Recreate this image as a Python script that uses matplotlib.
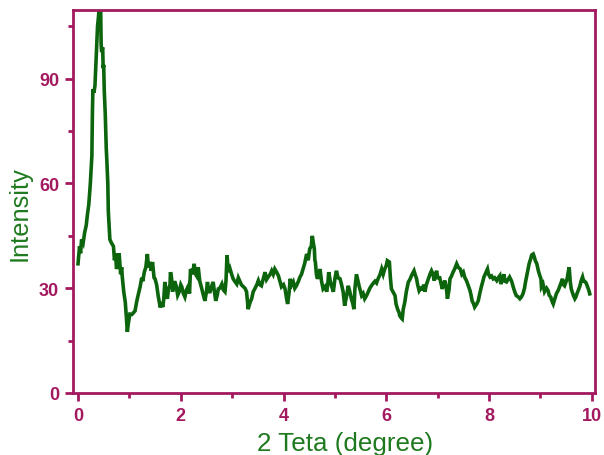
import numpy as np
import matplotlib
matplotlib.use('Agg')
from matplotlib import pyplot as plt
from matplotlib.ticker import MultipleLocator

# values
two_theta = [0.00, 0.03, 0.05, 0.07, 0.10, 0.13, 0.16, 0.18, 0.21, 0.24,
             0.27, 0.28, 0.29, 0.31, 0.33, 0.35, 0.38, 0.40, 0.42, 0.44,
             0.45, 0.46, 0.48, 0.49, 0.50, 0.51, 0.53, 0.55, 0.56, 0.58,
             0.59, 0.62, 0.65, 0.69, 0.71, 0.73, 0.75, 0.78, 0.80, 0.83,
             0.85, 0.86, 0.89, 0.92, 0.94, 0.96, 0.98, 1.01, 1.05, 1.11,
             1.14, 1.17, 1.21, 1.24, 1.26, 1.29, 1.32, 1.35, 1.37, 1.40,
             1.42, 1.45, 1.48, 1.50, 1.53, 1.56, 1.60, 1.62, 1.65, 1.67,
             1.69, 1.72, 1.74, 1.76, 1.79, 1.80, 1.82, 1.84, 1.88, 1.91,
             1.94, 1.97, 2.00, 2.02, 2.05, 2.08, 2.11, 2.15, 2.17, 2.19,
             2.23, 2.26, 2.29, 2.31, 2.34, 2.37, 2.41, 2.44, 2.47, 2.50,
             2.52, 2.54, 2.57, 2.60, 2.63, 2.66, 2.68, 2.71, 2.73, 2.76,
             2.80, 2.83, 2.86, 2.88, 2.90, 2.92, 2.94, 2.96, 2.99, 3.02,
             3.05, 3.09, 3.12, 3.15, 3.18, 3.22, 3.25, 3.28, 3.30, 3.31,
             3.35, 3.38, 3.41, 3.44, 3.48, 3.51, 3.54, 3.57, 3.61, 3.64,
             3.67, 3.70, 3.74, 3.77, 3.80, 3.83, 3.87, 3.90, 3.93, 3.96,
             4.00, 4.03, 4.06, 4.08, 4.11, 4.13, 4.16, 4.19, 4.22, 4.25,
             4.29, 4.32, 4.35, 4.38, 4.41, 4.45, 4.48, 4.51, 4.54, 4.56,
             4.58, 4.60, 4.61, 4.62, 4.64, 4.66, 4.69, 4.71, 4.74, 4.77,
             4.81, 4.84, 4.86, 4.88, 4.91, 4.94, 4.97, 5.00, 5.03, 5.06,
             5.10, 5.13, 5.16, 5.19, 5.23, 5.26, 5.29, 5.32, 5.35, 5.37,
             5.39, 5.42, 5.45, 5.47, 5.50, 5.52, 5.55, 5.58, 5.62, 5.65,
             5.68, 5.71, 5.75, 5.78, 5.81, 5.84, 5.88, 5.91, 5.94, 5.97,
             6.00, 6.02, 6.06, 6.08, 6.10, 6.13, 6.17, 6.19, 6.22, 6.25,
             6.26, 6.29, 6.31, 6.33, 6.36, 6.39, 6.43, 6.46, 6.49, 6.54,
             6.56, 6.59, 6.61, 6.64, 6.67, 6.70, 6.73, 6.75, 6.78, 6.82,
             6.85, 6.88, 6.91, 6.93, 6.96, 6.98, 7.00, 7.04, 7.07, 7.09,
             7.11, 7.14, 7.17, 7.19, 7.22, 7.24, 7.27, 7.30, 7.33, 7.37,
             7.40, 7.44, 7.47, 7.50, 7.53, 7.56, 7.59, 7.63, 7.65, 7.67,
             7.70, 7.72, 7.76, 7.79, 7.82, 7.85, 7.88, 7.90, 7.94, 7.97,
             7.99, 8.02, 8.05, 8.08, 8.11, 8.15, 8.18, 8.21, 8.23, 8.26,
             8.29, 8.31, 8.34, 8.37, 8.40, 8.44, 8.47, 8.50, 8.53, 8.57,
             8.60, 8.63, 8.66, 8.69, 8.71, 8.74, 8.76, 8.78, 8.81, 8.83,
             8.86, 8.88, 8.90, 8.93, 8.96, 8.98, 9.01, 9.02, 9.05, 9.08,
             9.12, 9.15, 9.17, 9.20, 9.22, 9.25, 9.28, 9.31, 9.35, 9.38,
             9.40, 9.43, 9.45, 9.47, 9.49, 9.52, 9.54, 9.56, 9.58, 9.60,
             9.64, 9.67, 9.69, 9.71, 9.74, 9.77, 9.79, 9.82, 9.84, 9.86,
             9.89, 9.91, 9.94, 9.96]

intensity = [37.0, 42.0, 40.0, 44.0, 43.0, 46.0, 48.0, 50.7, 54.0, 60.0,
             68.0, 80.0, 87.0, 86.0, 88.0, 95.0, 105.0, 108.0, 112.0, 111.0,
             100.0, 97.6, 99.0, 93.0, 94.0, 87.0, 80.0, 70.0, 67.0, 60.0,
             52.0, 44.0, 43.0, 42.0, 38.0, 40.0, 35.5, 38.0, 40.0, 34.0,
             36.0, 33.5, 29.0, 26.0, 22.0, 17.5, 20.0, 22.6, 22.5, 23.5,
             26.0, 28.0, 30.5, 33.0, 32.0, 34.6, 36.0, 39.8, 36.0, 37.5,
             35.0, 37.5, 33.0, 32.7, 31.0, 27.9, 24.5, 26.0, 24.6, 27.0,
             31.8, 28.0, 27.0, 29.8, 31.0, 34.6, 33.0, 29.0, 32.0, 30.7,
             28.0, 29.0, 31.0, 30.4, 28.5, 27.5, 29.5, 30.7, 28.5, 35.5,
             34.0, 37.0, 34.0, 33.5, 36.0, 32.0, 29.8, 28.0, 26.4, 29.0,
             31.8, 29.0, 29.0, 30.5, 31.8, 28.5, 26.4, 28.0, 29.8, 30.0,
             31.2, 29.5, 29.0, 32.0, 39.5, 36.0, 34.6, 35.5, 34.0, 32.7,
             32.0, 31.2, 33.0, 32.0, 31.0, 30.4, 30.0, 29.0, 26.0, 24.0,
             26.0, 27.0, 29.0, 29.8, 31.0, 32.2, 31.0, 30.7, 33.0, 34.6,
             32.5, 33.2, 34.0, 35.0, 34.0, 35.5, 34.5, 33.6, 32.0, 30.4,
             31.0, 29.8, 27.0, 25.5, 29.0, 32.7, 31.0, 31.8, 30.0, 30.7,
             32.0, 33.2, 34.0, 35.5, 37.0, 39.8, 38.0, 41.3, 42.0, 45.0,
             43.0, 41.3, 38.0, 37.5, 34.0, 32.7, 34.0, 35.5, 32.0, 29.8,
             30.5, 29.0, 31.0, 34.6, 32.0, 30.4, 29.0, 32.7, 35.0, 33.0,
             32.7, 31.0, 29.0, 25.0, 28.0, 30.7, 29.0, 27.0, 25.5, 24.0,
             30.0, 34.0, 32.0, 30.7, 29.0, 27.9, 28.5, 27.0, 28.0, 29.0,
             30.0, 30.7, 31.5, 32.0, 31.5, 32.7, 34.0, 35.5, 34.0, 35.5,
             36.5, 37.9, 37.5, 33.0, 29.8, 29.0, 27.9, 25.5, 24.0, 23.0,
             22.2, 21.5, 21.2, 24.0, 26.0, 29.0, 31.8, 32.5, 33.6, 35.0,
             34.0, 32.7, 31.0, 29.3, 30.0, 29.8, 31.0, 29.0, 31.0, 32.7,
             34.0, 35.0, 34.0, 32.2, 34.0, 35.0, 33.0, 33.0, 31.0, 29.8,
             31.0, 32.2, 30.0, 27.0, 29.5, 32.7, 33.5, 34.6, 35.5, 37.0,
             36.0, 35.5, 34.0, 34.6, 33.0, 32.2, 31.0, 29.3, 28.0, 26.4,
             25.5, 24.6, 25.5, 26.4, 28.5, 30.4, 32.0, 33.2, 34.5, 35.5,
             34.0, 33.2, 33.5, 32.7, 33.0, 32.2, 33.0, 33.6, 31.2, 32.5,
             34.0, 32.0, 31.8, 32.5, 33.2, 32.0, 30.4, 29.0, 27.9, 27.5,
             27.0, 27.5, 28.4, 30.0, 31.8, 34.0, 35.5, 37.0, 38.4, 39.5,
             39.8, 39.0, 37.9, 37.0, 35.0, 34.0, 32.7, 30.4, 31.2, 29.0,
             30.0, 29.3, 28.0, 27.5, 26.5, 25.5, 27.0, 28.4, 29.5, 30.7,
             31.5, 32.7, 31.0, 30.7, 31.5, 32.7, 34.5, 36.0, 32.0, 29.8,
             28.0, 27.0, 27.5, 28.4, 29.5, 30.7, 32.0, 33.2, 32.0, 32.0,
             31.5, 30.7, 29.5, 28.4]

x_ticks = [0, 2, 4, 6, 8, 10]
y_ticks = [0, 30, 60, 90]

axis_col = '#a3195f'
label_col = '#1f7a1f'
line_col = '#0c640c'

plt.rcParams['font.family'] = ['Liberation Sans', 'DejaVu Sans']

fig = plt.figure(figsize=(6.04, 4.56), dpi=100)
ax = fig.add_axes([0.1209, 0.136, 0.864, 0.840])

ax.plot(two_theta, intensity, color=line_col, lw=2.6, solid_joinstyle='miter')

ax.set_xlim(-0.097, 10.06)
ax.set_ylim(0, 109.7)
ax.set_xticks(x_ticks)
ax.set_yticks(y_ticks)
ax.xaxis.set_minor_locator(MultipleLocator(1))
ax.yaxis.set_minor_locator(MultipleLocator(15))

for s in ax.spines.values():
    s.set_color(axis_col)
    s.set_linewidth(2)

ax.tick_params(which='major', direction='out', length=6, width=2,
               color=axis_col, labelcolor=axis_col, labelsize=13, pad=4)
ax.tick_params(which='minor', direction='out', length=3.5, width=2,
               color=axis_col)
for lab in ax.get_xticklabels() + ax.get_yticklabels():
    lab.set_fontweight('bold')

ax.set_xlabel('2 Teta (degree)', color=label_col, fontsize=18.7)
ax.set_ylabel('Intensity', color=label_col, fontsize=18.3)
# reference labels sit a little off the axes centre
ax.xaxis.set_label_coords(0.521, -0.098)
ax.yaxis.set_label_coords(-0.079, 0.47)

fig.savefig('out.png', dpi=100)
